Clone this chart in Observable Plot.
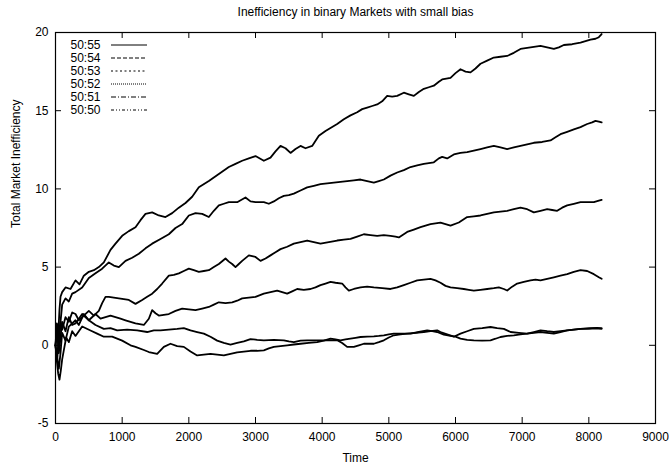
<!DOCTYPE html>
<html><head><meta charset="utf-8">
<script src="https://cdn.jsdelivr.net/npm/d3@7"></script>
<script src="https://cdn.jsdelivr.net/npm/@observablehq/plot@0.6"></script>
<style>body{margin:0;background:#fff}</style>
</head><body><div id="chart"></div>
<script>
const title = "Inefficiency in binary Markets with small bias";
const xLabel = "Time";
const yLabel = "Total Market Inefficiency";
const xTicks = [0,1000,2000,3000,4000,5000,6000,7000,8000,9000];
const yTicks = [-5,0,5,10,15,20];
const seriesNames = ["50:55","50:54","50:53","50:52","50:51","50:50"];

const s55 = [[0,0],[20,1.4],[40,0.6],[60,2.3],[75,3.1],[100,3.4],[150,3.7],[225,3.6],[300,4.15],[360,3.9],[425,4.45],[500,4.7],[575,4.8],[650,5.0],[725,5.3],[825,6.1],[900,6.5],[1000,7.0],[1100,7.3],[1200,7.55],[1275,8.0],[1350,8.4],[1450,8.5],[1550,8.3],[1650,8.2],[1750,8.45],[1850,8.8],[1950,9.1],[2050,9.5],[2150,10.1],[2300,10.5],[2450,10.95],[2600,11.4],[2700,11.6],[2800,11.8],[2900,11.95],[3000,12.1],[3125,11.8],[3225,12.0],[3300,12.4],[3375,12.75],[3450,12.6],[3525,12.3],[3600,12.55],[3675,12.75],[3750,12.6],[3850,12.75],[3950,13.4],[4050,13.7],[4125,13.9],[4225,14.15],[4325,14.45],[4425,14.7],[4525,14.9],[4600,15.1],[4675,15.2],[4750,15.3],[4825,15.4],[4900,15.6],[4975,15.95],[5050,15.9],[5125,15.95],[5225,16.15],[5300,16.05],[5375,15.95],[5450,16.2],[5525,16.4],[5600,16.5],[5675,16.6],[5750,16.85],[5800,17.0],[5925,17.1],[6000,17.4],[6075,17.65],[6150,17.5],[6225,17.45],[6300,17.7],[6375,18.0],[6475,18.2],[6575,18.4],[6675,18.45],[6775,18.5],[6875,18.7],[6975,18.95],[7050,19.0],[7125,19.05],[7200,19.1],[7275,19.15],[7375,19.05],[7475,18.95],[7550,19.05],[7625,19.2],[7750,19.25],[7875,19.35],[7950,19.45],[8025,19.55],[8100,19.6],[8150,19.7],[8192,19.9]];

const s54 = [[0,0],[25,0.8],[50,-0.3],[75,1.5],[100,2.6],[150,3.0],[200,2.8],[250,3.3],[300,3.4],[400,3.7],[500,4.3],[600,4.6],[700,4.9],[800,5.3],[875,5.1],[950,5.0],[1050,5.4],[1150,5.6],[1250,5.85],[1350,6.2],[1450,6.5],[1575,6.8],[1700,7.1],[1800,7.5],[1900,7.75],[2000,8.3],[2100,8.45],[2200,8.4],[2300,8.2],[2375,8.6],[2450,8.95],[2525,9.05],[2600,9.15],[2725,9.15],[2850,9.45],[2925,9.2],[3000,9.15],[3125,9.15],[3200,9.05],[3275,9.2],[3350,9.4],[3425,9.55],[3500,9.6],[3575,9.7],[3675,9.9],[3775,10.1],[3875,10.2],[3975,10.3],[4075,10.35],[4175,10.4],[4275,10.45],[4375,10.5],[4475,10.55],[4575,10.6],[4675,10.5],[4775,10.4],[4850,10.5],[4925,10.6],[5025,10.85],[5125,11.05],[5225,11.2],[5325,11.4],[5425,11.5],[5525,11.6],[5600,11.65],[5675,11.7],[5750,11.95],[5800,12.05],[5875,11.95],[5975,12.2],[6075,12.3],[6175,12.35],[6275,12.45],[6375,12.55],[6475,12.65],[6575,12.75],[6675,12.65],[6775,12.55],[6875,12.65],[6975,12.75],[7075,12.85],[7175,12.95],[7300,13.0],[7425,13.1],[7500,13.3],[7575,13.5],[7675,13.65],[7775,13.8],[7875,13.95],[7975,14.15],[8050,14.25],[8100,14.35],[8150,14.3],[8192,14.25]];

const s53 = [[0,0],[25,-1.0],[50,0.8],[75,1.5],[100,1.0],[150,1.8],[200,1.5],[250,2.1],[300,2.0],[350,1.6],[400,1.8],[500,2.2],[575,1.9],[650,2.2],[700,2.7],[750,3.1],[800,3.1],[875,3.05],[950,3.0],[1025,2.95],[1100,2.9],[1200,2.65],[1300,2.9],[1375,3.1],[1450,3.3],[1525,3.6],[1600,3.95],[1700,4.45],[1775,4.5],[1850,4.6],[1925,4.75],[2000,4.9],[2075,4.8],[2150,4.7],[2225,4.75],[2300,4.8],[2375,5.0],[2450,5.2],[2550,5.55],[2600,5.35],[2650,5.2],[2700,5.0],[2750,5.2],[2800,5.4],[2900,5.75],[3000,5.65],[3075,5.4],[3150,5.55],[3225,5.75],[3300,5.95],[3375,6.15],[3475,6.3],[3575,6.5],[3675,6.6],[3775,6.7],[3875,6.6],[3975,6.5],[4100,6.6],[4225,6.7],[4325,6.75],[4425,6.8],[4525,6.95],[4625,7.1],[4725,7.05],[4825,7.0],[4925,7.05],[5025,7.0],[5100,6.95],[5150,6.9],[5275,7.25],[5375,7.4],[5475,7.55],[5550,7.65],[5625,7.75],[5775,7.85],[5850,7.75],[5925,7.65],[6050,7.85],[6175,8.2],[6275,8.25],[6375,8.3],[6475,8.4],[6575,8.5],[6675,8.55],[6775,8.6],[6875,8.7],[6975,8.8],[7075,8.7],[7175,8.5],[7275,8.6],[7375,8.7],[7450,8.65],[7525,8.6],[7600,8.8],[7675,8.95],[7775,9.05],[7875,9.15],[7975,9.15],[8075,9.15],[8150,9.25],[8192,9.3]];

const s52 = [[0,0],[25,1.2],[50,-0.5],[75,0.5],[100,1.5],[150,0.9],[200,1.8],[250,1.3],[300,1.4],[400,2.0],[500,1.6],[600,2.0],[675,1.7],[750,1.8],[825,1.9],[900,1.8],[975,1.7],[1050,1.6],[1125,1.5],[1200,1.4],[1325,1.3],[1400,1.7],[1450,2.25],[1500,2.05],[1550,1.9],[1625,1.95],[1700,2.0],[1800,2.2],[1900,2.35],[2000,2.3],[2100,2.25],[2200,2.35],[2300,2.45],[2375,2.6],[2450,2.75],[2550,2.7],[2650,2.75],[2725,2.85],[2800,3.0],[2900,3.05],[3000,3.1],[3125,3.3],[3225,3.4],[3325,3.5],[3400,3.4],[3475,3.3],[3550,3.45],[3625,3.6],[3725,3.55],[3825,3.6],[3900,3.7],[3975,3.85],[4050,3.95],[4125,4.05],[4200,4.0],[4300,3.95],[4350,3.7],[4400,3.5],[4475,3.6],[4575,3.7],[4675,3.75],[4775,3.7],[4900,3.65],[5025,3.6],[5125,3.7],[5225,3.85],[5325,4.0],[5425,4.15],[5525,4.2],[5625,4.25],[5700,4.15],[5775,4.0],[5850,3.8],[5925,3.7],[6025,3.65],[6125,3.6],[6200,3.55],[6275,3.5],[6375,3.55],[6475,3.6],[6575,3.65],[6650,3.7],[6725,3.6],[6775,3.5],[6850,3.75],[6925,3.95],[7025,4.05],[7125,4.15],[7200,4.2],[7275,4.15],[7375,4.25],[7475,4.35],[7575,4.45],[7675,4.55],[7775,4.7],[7875,4.8],[7975,4.75],[8075,4.55],[8150,4.35],[8192,4.25]];

const s51 = [[0,0],[25,-0.8],[50,-1.5],[75,-0.5],[100,0.8],[150,0.3],[200,1.2],[300,1.6],[350,1.3],[425,2.0],[500,1.6],[600,1.3],[725,1.05],[825,1.1],[925,0.95],[1075,1.0],[1225,0.95],[1375,0.85],[1475,0.95],[1575,0.95],[1700,1.0],[1825,1.05],[1925,1.1],[2025,0.95],[2125,0.85],[2225,0.75],[2325,0.55],[2425,0.3],[2525,0.15],[2625,0.05],[2725,0.15],[2825,0.25],[2925,0.4],[3025,0.35],[3125,0.32],[3275,0.35],[3425,0.32],[3500,0.25],[3575,0.2],[3675,0.3],[3775,0.32],[3925,0.32],[4075,0.32],[4225,0.32],[4300,0.15],[4375,-0.1],[4475,-0.1],[4550,0.0],[4625,0.1],[4775,0.1],[4850,0.2],[4925,0.32],[5000,0.5],[5075,0.64],[5175,0.7],[5275,0.75],[5400,0.8],[5525,0.85],[5625,0.9],[5725,0.96],[5775,0.85],[5875,0.7],[5975,0.55],[6075,0.75],[6175,0.9],[6275,1.05],[6400,1.1],[6525,1.17],[6625,1.1],[6725,1.05],[6825,0.85],[6950,0.8],[7075,0.75],[7175,0.8],[7275,0.85],[7375,0.8],[7475,0.75],[7575,0.85],[7675,0.95],[7775,1.0],[7875,1.05],[8000,1.1],[8125,1.12],[8192,1.1]];

const s50 = [[0,0],[20,-1.0],[40,-1.8],[60,-2.2],[80,-1.6],[100,-0.9],[130,-0.2],[160,0.5],[200,0.2],[250,0.9],[300,0.6],[400,1.2],[525,0.95],[625,0.75],[725,0.55],[850,0.55],[1000,0.3],[1125,0.0],[1200,-0.1],[1325,-0.3],[1400,-0.43],[1525,-0.55],[1625,-0.1],[1725,0.1],[1825,-0.05],[1925,-0.1],[2025,-0.4],[2125,-0.65],[2225,-0.6],[2325,-0.55],[2425,-0.6],[2525,-0.65],[2625,-0.55],[2725,-0.45],[2825,-0.4],[2925,-0.35],[3025,-0.35],[3125,-0.32],[3200,-0.2],[3275,-0.1],[3375,-0.05],[3475,0.0],[3575,0.05],[3675,0.1],[3800,0.15],[3925,0.2],[4025,0.3],[4125,0.43],[4200,0.38],[4275,0.32],[4350,0.38],[4425,0.43],[4500,0.48],[4575,0.53],[4675,0.55],[4775,0.57],[4850,0.6],[4925,0.64],[5000,0.7],[5075,0.75],[5200,0.75],[5325,0.75],[5450,0.85],[5575,0.96],[5650,0.9],[5725,0.85],[5825,0.68],[5925,0.6],[6000,0.55],[6075,0.43],[6175,0.35],[6275,0.32],[6400,0.3],[6525,0.32],[6600,0.42],[6675,0.53],[6775,0.6],[6875,0.64],[6975,0.7],[7075,0.75],[7175,0.85],[7275,0.96],[7375,0.9],[7475,0.85],[7575,0.9],[7675,0.95],[7775,1.0],[7875,1.05],[8000,1.05],[8100,1.08],[8192,1.05]];

const seriesData = [s55, s54, s53, s52, s51, s50];
const legendDash = ["none", "4,2", "2,2.5", "1,1", "5,2,1,2", "3,2,1,2,1,2"];

const rows = seriesData.flatMap((s, i) => s.map(([t, v]) => ({t, v, series: seriesNames[i]})));

const W = 669, H = 470, mL = 55, mR = 14, mT = 32, mB = 47;
const innerW = W - mL - mR, innerH = H - mT - mB;
const tickLen = 6;
const font = "'Liberation Sans', Arial, Helvetica, sans-serif";

const chart = Plot.plot({
  width: W, height: H,
  marginLeft: mL, marginRight: mR, marginTop: mT, marginBottom: mB,
  style: {fontFamily: font, fontSize: "12px", color: "#000", background: "#fff"},
  x: {domain: [0, 9000]},
  y: {domain: [-5, 20]},
  marks: [
    Plot.axisX(xTicks, {anchor: "bottom", tickSize: 0, tickPadding: 9, label: null, fontSize: 12, tickFormat: d => String(d)}),
    Plot.axisY(yTicks, {anchor: "left", tickSize: 0, tickPadding: 7, label: null, fontSize: 12, tickFormat: d => String(d)}),
    Plot.tickX(xTicks, {x: d => d, insetTop: innerH - tickLen, stroke: "#000"}),
    Plot.tickX(xTicks, {x: d => d, insetBottom: innerH - tickLen, stroke: "#000"}),
    Plot.tickY(yTicks, {y: d => d, insetRight: innerW - tickLen, stroke: "#000"}),
    Plot.tickY(yTicks, {y: d => d, insetLeft: innerW - tickLen, stroke: "#000"}),
    Plot.line(rows, {x: "t", y: "v", z: "series", stroke: "#000", strokeWidth: 1.8, strokeLinejoin: "round"}),
    Plot.frame({stroke: "#000", strokeWidth: 1.2}),
    Plot.text([title], {frameAnchor: "top", lineAnchor: "middle", dy: -20, fontSize: 12}),
    Plot.text([xLabel], {frameAnchor: "bottom", lineAnchor: "middle", dy: 35, fontSize: 12}),
    Plot.text([yLabel], {frameAnchor: "left", lineAnchor: "middle", dx: -39, rotate: -90, fontSize: 12}),
    ...seriesNames.map((n, i) => Plot.text([n], {frameAnchor: "top-left", lineAnchor: "middle", dx: 15, dy: 13 + 13 * i, textAnchor: "start", fontSize: 12}))
  ]
});

// legend line samples
const svg = d3.select(chart);
seriesNames.forEach((n, i) => {
  svg.append("line")
    .attr("x1", mL + 56).attr("x2", mL + 92)
    .attr("y1", mT + 13 + 13 * i).attr("y2", mT + 13 + 13 * i)
    .attr("stroke", "#000").attr("stroke-width", 1)
    .attr("stroke-dasharray", legendDash[i]);
});

document.getElementById("chart").appendChild(chart);
</script>
</body></html>
